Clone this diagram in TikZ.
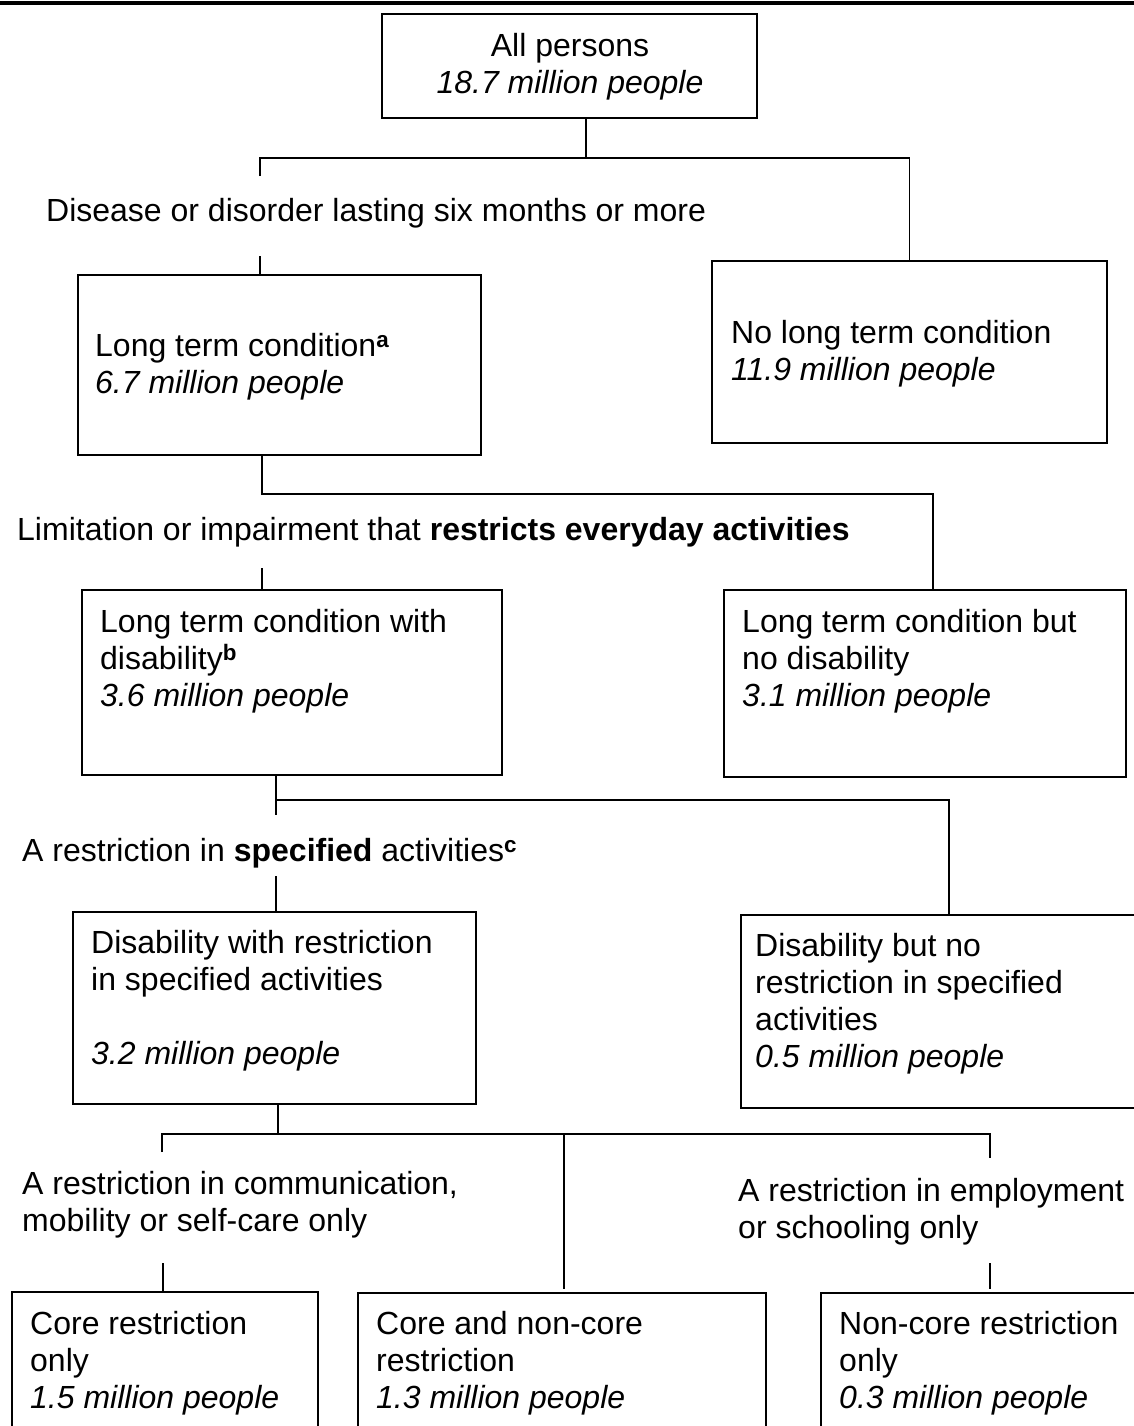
\documentclass[tikz,border=0pt]{standalone}
\usepackage{fontspec}
\setmainfont{Liberation Sans}
\usepackage{tikz}

\begin{document}
\begin{tikzpicture}[x=1pt, y=-1pt,
    box/.style={draw, line width=1.9pt, outer sep=0pt, inner sep=0pt, anchor=north west},
    txt/.style={font=\fontsize{32}{37}\selectfont, inner sep=0pt, align=left,
                anchor=north west, execute at begin node=\strut},
    link/.style={line width=1.9pt}]
    \useasboundingbox (0,0) rectangle (1134,1426);
    \draw[line width=3.4pt] (0,3) -- (1134,3);

    \node[box, minimum width=375pt, minimum height=104pt] (all) at (382,14) {};
    \node[txt, align=center, anchor=north] (allt) at (570,33) {All persons\\\textit{18.7 million people}};

    \coordinate (k1) at (586,158);
    \coordinate (k1l) at (260,158);
    \coordinate (k1s) at (260,176);
    \coordinate (k1b) at (260,256);
    \node[txt] (dis) at (46,195) {Disease or disorder lasting six months or more};

    \node[box, minimum width=403pt, minimum height=180pt] (ltc) at (78,275) {};
    \node[txt] (ltct) at (95,333) {Long term condition\textsuperscript{\textbf{a}}\\\textit{6.7 million people}};
    \node[box, minimum width=395pt, minimum height=182pt] (nolt) at (712,261) {};
    \node[txt] (noltt) at (731,320) {No long term condition\\\textit{11.9 million people}};

    \draw[link] (all.south -| k1) -- (k1);
    \draw[link] (k1s) -- (k1l) -| (nolt.north);
    \draw[link] (k1b) -- (k1b |- ltc.north);

    \coordinate (k2) at (262,494);
    \coordinate (k2r) at (933,494);
    \coordinate (k2b) at (262,568);
    \node[txt] (lim) at (17,514) {Limitation or impairment that \textbf{restricts everyday activities}};

    \node[box, minimum width=420pt, minimum height=185pt] (ltcd) at (82,590) {};
    \node[txt] (ltcdt) at (100,609) {Long term condition with\\disability\textsuperscript{\textbf{b}}\\\textit{3.6 million people}};
    \node[box, minimum width=402pt, minimum height=187pt] (ltcn) at (724,590) {};
    \node[txt] (ltcnt) at (742,609) {Long term condition but\\no disability\\\textit{3.1 million people}};

    \draw[link] (ltc.south -| k2) -- (k2) -- (k2r) -- (k2r |- ltcn.north);
    \draw[link] (k2b) -- (k2b |- ltcd.north);

    \coordinate (k3) at (276,800);
    \coordinate (k3s) at (276,815);
    \coordinate (k3r) at (949,800);
    \coordinate (k3b) at (276,876);
    \node[txt] (spec) at (22,835) {A restriction in \textbf{specified} activities\textsuperscript{\textbf{c}}};

    \node[box, minimum width=403pt, minimum height=192pt] (dwr) at (73,912) {};
    \node[txt] (dwrt) at (91,930) {Disability with restriction\\in specified activities\\[37pt]\textit{3.2 million people}};
    \node[box, minimum width=410pt, minimum height=193pt] (dnr) at (741,915) {};
    \node[txt] (dnrt) at (755,933) {Disability but no\\restriction in specified\\activities\\\textit{0.5 million people}};

    \draw[link] (ltcd.south -| k3) -- (k3s);
    \draw[link] (k3) -- (k3r) -- (k3r |- dnr.north);
    \draw[link] (k3b) -- (k3b |- dwr.north);

    \coordinate (k4) at (278,1134);
    \coordinate (k4l) at (162,1134);
    \coordinate (k4ls) at (162,1152);
    \coordinate (k4m) at (564,1134);
    \coordinate (k4me) at (564,1289);
    \coordinate (k4r) at (990,1134);
    \coordinate (k4rs) at (990,1158);
    \coordinate (k4lb) at (163,1263);
    \coordinate (k4rb) at (990,1263);
    \coordinate (k4re) at (990,1289);
    \node[txt] (com) at (22,1171) {A restriction in communication,\\mobility or self-care only};
    \node[txt] (emp) at (738,1178) {A restriction in employment\\or schooling only};

    \node[box, minimum width=306pt, minimum height=160pt] (core) at (12,1292) {};
    \node[txt] (coret) at (30,1311) {Core restriction\\only\\\textit{1.5 million people}};
    \node[box, minimum width=408pt, minimum height=160pt] (both) at (358,1293) {};
    \node[txt] (botht) at (376,1311) {Core and non-core\\restriction\\\textit{1.3 million people}};
    \node[box, minimum width=330pt, minimum height=160pt] (ncore) at (821,1293) {};
    \node[txt] (ncoret) at (839,1311) {Non-core restriction\\only\\\textit{0.3 million people}};

    \draw[link] (dwr.south -| k4) -- (k4);
    \draw[link] (k4ls) -- (k4l) -- (k4r) -- (k4rs);
    \draw[link] (k4m) -- (k4me);
    \draw[link] (k4lb) -- (k4lb |- core.north);
    \draw[link] (k4rb) -- (k4re);
\end{tikzpicture}
\end{document}
